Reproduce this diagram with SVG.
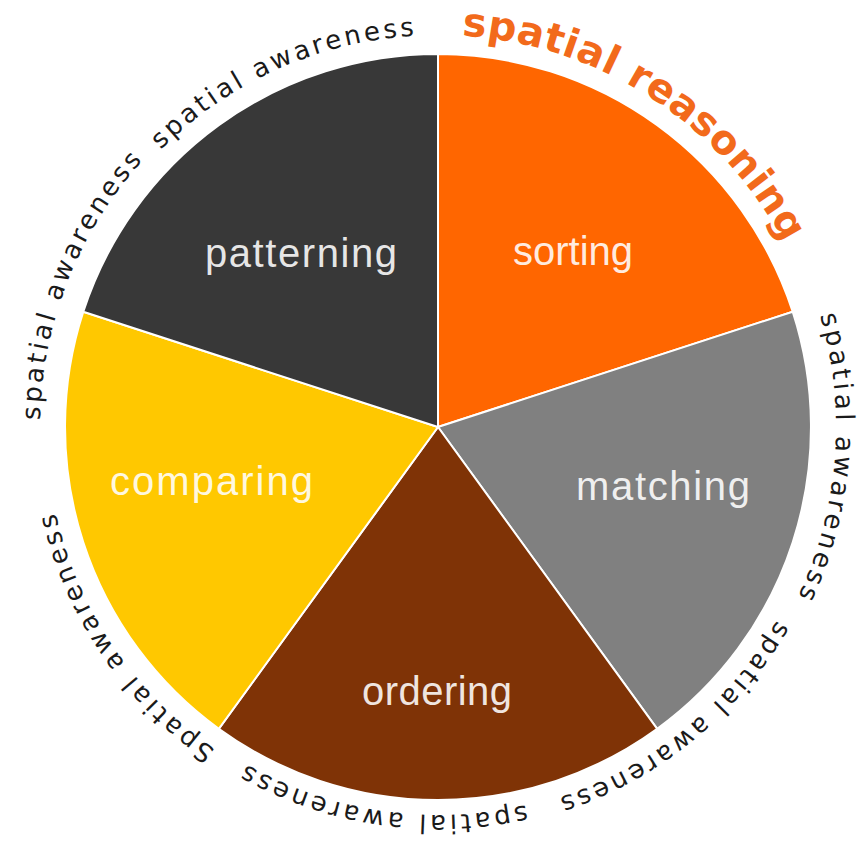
<svg xmlns="http://www.w3.org/2000/svg" width="861" height="844" viewBox="0 0 861 844">
<style>
.slice{stroke:#ffffff;stroke-width:2;stroke-linejoin:round}
.lbl{font-family:"Liberation Sans",Arial,sans-serif;font-size:40px;fill:#ffffff;fill-opacity:0.88;text-anchor:middle}
.aw{font-family:"DejaVu Sans","Liberation Sans",sans-serif;font-size:26px;fill:#1a1a1a}
.sr{font-family:"DejaVu Sans","Liberation Sans",sans-serif;font-size:40px;font-weight:bold;fill:#F26A1B}
</style>
<defs>
<path id="p-tl" d="M160.8,149.8 A392,392 0 0 1 438,35"/>
<path id="p-l" d="M40.1,420.1 A398,398 0 0 1 182.2,122.1"/>
<path id="p-r" d="M820,315.3 A398,398 0 0 1 782.7,626"/>
<path id="p-br" d="M776.8,620.2 A390,390 0 0 1 532.3,805.4"/>
<path id="p-b" d="M526,804.9 A388,388 0 0 1 232.4,756"/>
<path id="p-bl" d="M215.4,749.7 A392,392 0 0 1 52,495.1"/>
<path id="p-sr" d="M461.9,35.7 A392,392 0 0 1 793.3,261.3"/>
</defs>
<rect width="861" height="844" fill="#ffffff"/>
<g id="sorting">
<path class="slice" fill="#FF6600" d="M438,427 L438,54 A373,373 0 0 1 792.7,311.7 Z"/>
<text class="lbl" x="573" y="265" textLength="120" lengthAdjust="spacing">sorting</text>
</g>
<g id="matching">
<path class="slice" fill="#808080" d="M438,427 L792.7,311.7 A373,373 0 0 1 657.2,728.8 Z"/>
<text class="lbl" x="663" y="500" textLength="174" lengthAdjust="spacing">matching</text>
</g>
<g id="ordering">
<path class="slice" fill="#7F3306" d="M438,427 L657.2,728.8 A373,373 0 0 1 218.8,728.8 Z"/>
<text class="lbl" x="437" y="705" textLength="150" lengthAdjust="spacing">ordering</text>
</g>
<g id="comparing">
<path class="slice" fill="#FFC800" d="M438,427 L218.8,728.8 A373,373 0 0 1 83.3,311.7 Z"/>
<text class="lbl" x="211.5" y="495" textLength="203" lengthAdjust="spacing">comparing</text>
</g>
<g id="patterning">
<path class="slice" fill="#383838" d="M438,427 L83.3,311.7 A373,373 0 0 1 438,54 Z"/>
<text class="lbl" x="301" y="267" textLength="192" lengthAdjust="spacing">patterning</text>
</g>
<g id="ring-labels">
<text class="sr"><textPath href="#p-sr" textLength="400" lengthAdjust="spacing">spatial reasoning</textPath></text>
<text class="aw"><textPath href="#p-tl" textLength="284" lengthAdjust="spacing">spatial awareness</textPath></text>
<text class="aw"><textPath href="#p-l" textLength="285" lengthAdjust="spacing">spatial awareness</textPath></text>
<text class="aw"><textPath href="#p-r" textLength="288" lengthAdjust="spacing">spatial awareness</textPath></text>
<text class="aw"><textPath href="#p-br" textLength="287" lengthAdjust="spacing">spatial awareness</textPath></text>
<text class="aw"><textPath href="#p-b" textLength="289" lengthAdjust="spacing">spatial awareness</textPath></text>
<text class="aw"><textPath href="#p-bl" textLength="292" lengthAdjust="spacing">Spatial awareness</textPath></text>
</g>
</svg>
